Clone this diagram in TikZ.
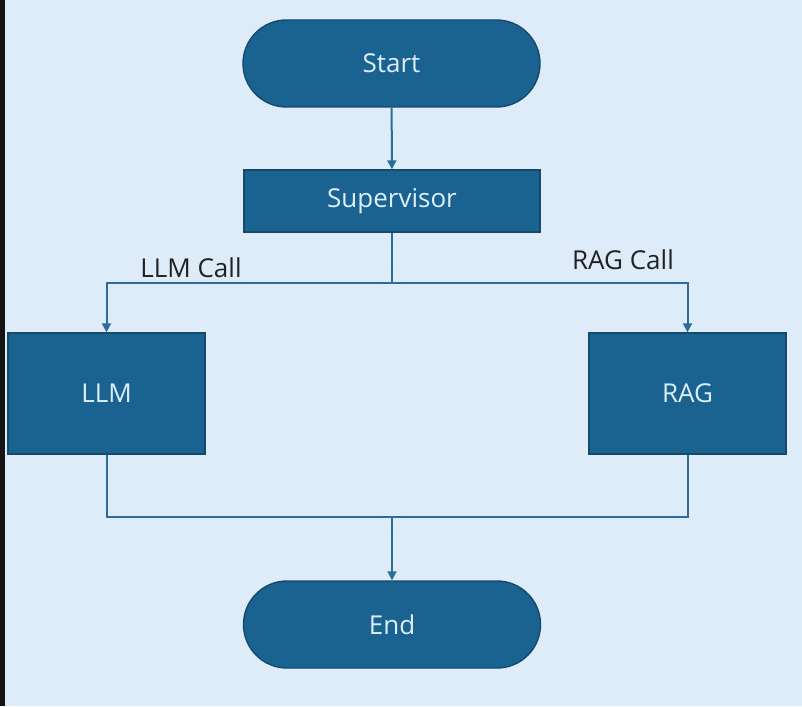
\documentclass[tikz,border=0pt]{standalone}
\usepackage{fontspec}
\setmainfont{Open Sans}
\usetikzlibrary{arrows.meta}
\definecolor{bgc}{HTML}{DEEBF8}
\definecolor{nodefill}{HTML}{1A6390}
\definecolor{nodeedge}{HTML}{154A6C}
\definecolor{nodetext}{HTML}{DDEEFB}
\definecolor{linec}{HTML}{2B6C98}
\definecolor{labelc}{HTML}{222222}
\definecolor{strip}{HTML}{151515}
\begin{document}
\begin{tikzpicture}[x=1pt,y=-1pt,
  every node/.style={font=\fontsize{26}{30}\selectfont},
  term/.style={draw=nodeedge,line width=1.4pt,fill=nodefill,text=nodetext,rounded corners=43.5pt,minimum width=297pt,minimum height=87pt,inner sep=0pt},
  procbox/.style={draw=nodeedge,line width=1.4pt,fill=nodefill,text=nodetext,minimum width=#1,inner sep=0pt},
  conn/.style={draw=linec,line width=2pt},
  arr/.style={conn,-{Triangle[length=9pt,width=9pt]}},
  lbl/.style={text=labelc,inner sep=0pt}]
\fill[bgc] (0,0) rectangle (802,706);
\fill[strip] (0,0) rectangle (5,706);
\useasboundingbox (0,0) rectangle (802,706);

\node[term] (start) at (391.5,63.5) {Start};
\node[procbox=296pt,minimum height=62pt] (sup) at (392,201) {Supervisor};
\node[procbox=197pt,minimum height=121pt] (llm) at (106.5,393.5) {LLM};
\node[procbox=197pt,minimum height=121pt] (rag) at (687.5,393.5) {RAG};
\node[term] (end) at (392,624.5) {End};

\coordinate (split) at (392,283);
\coordinate (join) at (392,517);

\draw[arr] (start) -- (sup);
\draw[conn] (sup) -- (split);
\draw[arr] (split) -| (llm.north);
\draw[arr] (split) -| (rag.north);
\draw[conn] (llm.south) |- (join);
\draw[conn] (rag.south) |- (join);
\draw[arr] (join) -- (end);

\node[lbl] (llmcall) at (191,268) {LLM Call};
\node[lbl] (ragcall) at (623,260) {RAG Call};
\end{tikzpicture}
\end{document}
